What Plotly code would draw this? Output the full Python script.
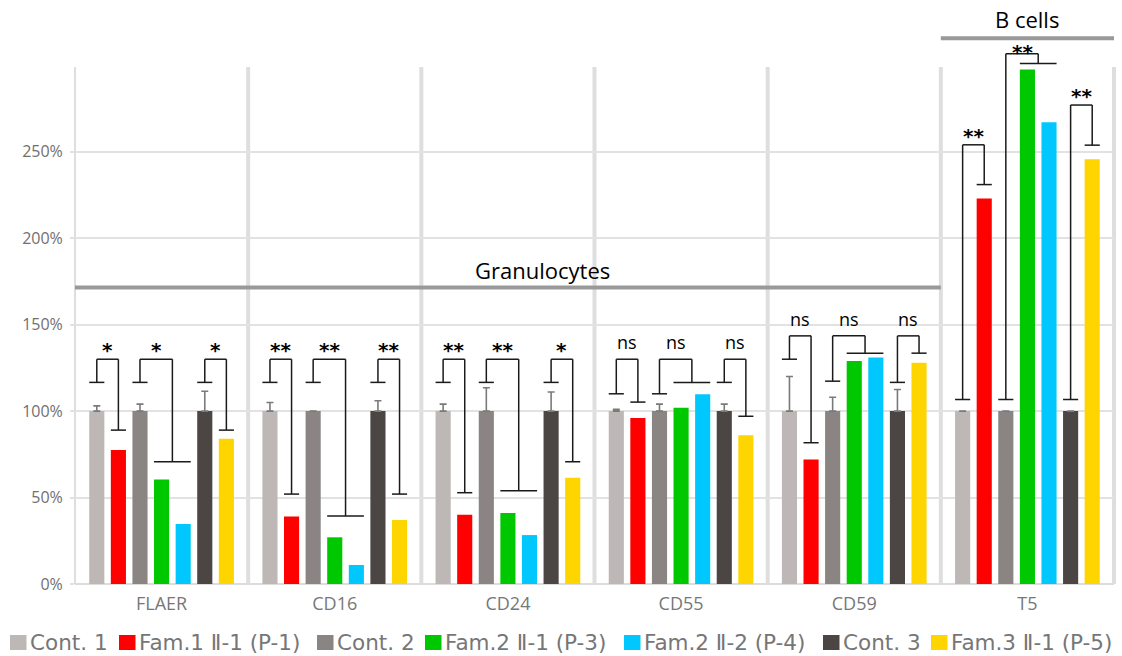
import plotly.graph_objects as go

# ---------------- data ----------------
categories = ["FLAER", "CD16", "CD24", "CD55", "CD59", "T5"]
series_names = ["Cont. 1", "Fam.1 Ⅱ-1 (P-1)", "Cont. 2", "Fam.2 Ⅱ-1 (P-3)",
                "Fam.2 Ⅱ-2 (P-4)", "Cont. 3", "Fam.3 Ⅱ-1 (P-5)"]
cont1 = [100, 100, 100, 100, 100, 100]
fam1_p1 = [77.5, 39, 40, 96, 72, 223]
cont2 = [100, 100, 100, 100, 100, 100]
fam2_p3 = [60.5, 27, 41, 102, 129, 297.5]
fam2_p4 = [34.7, 11, 28.3, 109.7, 131, 267]
cont3 = [100, 100, 100, 100, 100, 100]
fam3_p5 = [84, 37, 61.5, 86, 128, 245.7]
cont1_err = [3, 5, 4, 1, 20, None]
cont2_err = [4, None, 13.5, 4, 8, None]
cont3_err = [11.5, 6, 11, 4, 12.5, None]
y_tick_values = [0, 50, 100, 150, 200, 250]
y_tick_labels = ["0%", "50%", "100%", "150%", "200%", "250%"]

# significance brackets: (group, left bar, right bars, left foot %, top %, right foot %, label)
brackets = [
    (0, 0, [1], 116.6, 130, 89, "*"), (0, 2, [3, 4], 116.6, 130, 70.7, "*"), (0, 5, [6], 116.6, 130, 89, "*"),
    (1, 0, [1], 116.6, 130, 52, "**"), (1, 2, [3, 4], 116.6, 130, 39.3, "**"), (1, 5, [6], 116.6, 130, 52, "**"),
    (2, 0, [1], 116.6, 130, 52.8, "**"), (2, 2, [3, 4], 116.6, 130, 54, "**"), (2, 5, [6], 116.6, 130, 70.7, "*"),
    (3, 0, [1], 110, 130, 105.2, "ns"), (3, 2, [3, 4], 110, 130, 116.6, "ns"), (3, 5, [6], 116.6, 130, 97, "ns"),
    (4, 0, [1], 130, 143.5, 81.7, "ns"), (4, 2, [3, 4], 117.3, 143.5, 133.5, "ns"), (4, 5, [6], 116.6, 143.5, 133.5, "ns"),
    (5, 0, [1], 106.7, 254, 231, "**"), (5, 2, [3, 4], 106.7, 306.7, 301, "**"), (5, 5, [6], 106.7, 277, 253.8, "**"),
]
group_labels = ["Granulocytes", "B cells"]

# ---------------- style ----------------
colors = ["#bdb7b6", "#ff0000", "#8a8483", "#00c800", "#00c8ff", "#4b4644", "#ffd500"]
W, H = 1122, 656
ML, MR, MT, MB = 75, 8, 67, 72
Y_MAX = 299
BARGAP = 0.127
BARGROUPGAP = 0.3
NB = len(series_names)
SLOT = (1 - BARGAP) / NB
BARW = SLOT * (1 - BARGROUPGAP)
PW, PH = W - ML - MR, H - MT - MB
label_nudge = {16: -7}  # extra pixel shift for the tight label under the "B cells" header

values = [cont1, fam1_p1, cont2, fam2_p3, fam2_p4, cont3, fam3_p5]
errors = [cont1_err, None, cont2_err, None, None, cont3_err, None]

fig = go.Figure()
for name, vals, err, col in zip(series_names, values, errors, colors):
    kw = {}
    if err is not None:
        kw["error_y"] = dict(type="data", array=err, arrayminus=[0] * len(err), symmetric=False,
                             color="#7a7a7a", thickness=1.6, width=3.5)
    fig.add_trace(go.Bar(x=categories, y=vals, name=name, marker_color=col,
                         marker_line_width=0, showlegend=False, **kw))


def xd(x):  # category coordinate -> x domain fraction
    return (x + 0.5) / len(categories)


def yd(v):  # data value -> y domain fraction
    return v / Y_MAX


def bar_x(g, i):
    return g + (i - (NB - 1) / 2) * SLOT


def px_x(px):
    return (px - ML) / PW


def px_y(py):
    return (H - MB - py) / PH


shapes = []
# left edge line
shapes.append(dict(type="line", xref="x domain", yref="y domain", x0=0, x1=0, y0=0, y1=1,
                   line=dict(color="#dedede", width=2), layer="below"))
# group separators
for g in range(len(categories)):
    shapes.append(dict(type="line", xref="x domain", yref="y domain", x0=xd(g + 0.5), x1=xd(g + 0.5),
                       y0=0, y1=1, line=dict(color="#dedede", width=4), layer="below"))

annotations = []
LC = "#1a1a1a"
for k, (g, li, ris, yl, top, yr, lab) in enumerate(brackets):
    xl = bar_x(g, li)
    xr = sum(bar_x(g, r) for r in ris) / len(ris)
    hwl = BARW / 2
    hwr = (BARW + SLOT * (len(ris) - 1)) / 2
    segs = [((xl - hwl, yl), (xl + hwl, yl)), ((xl, yl), (xl, top)), ((xl, top), (xr, top)),
            ((xr, top), (xr, yr)), ((xr - hwr, yr), (xr + hwr, yr))]
    for (x0, y0), (x1, y1) in segs:
        shapes.append(dict(type="line", xref="x domain", yref="y domain",
                           x0=xd(x0), x1=xd(x1), y0=yd(y0), y1=yd(y1),
                           line=dict(color=LC, width=1.5)))
    if lab == "ns":
        annotations.append(dict(xref="x domain", yref="y domain", x=xd((xl + xr) / 2), y=yd(top),
                                text=lab, showarrow=False, xanchor="center", yanchor="bottom", yshift=3,
                                font=dict(family="Open Sans", size=18, color="#000000")))
    else:
        annotations.append(dict(xref="x domain", yref="y domain", x=xd((xl + xr) / 2), y=yd(top),
                                text="<b>" + lab + "</b>", showarrow=False, xanchor="center",
                                yanchor="bottom", yshift=-4 + label_nudge.get(k, 0), borderpad=0,
                                font=dict(family="DejaVu Sans", size=20, color="#000000")))

# cell-type headers
shapes.append(dict(type="line", xref="x domain", yref="y domain", x0=0, x1=xd(4.5),
                   y0=yd(171.5), y1=yd(171.5), line=dict(color="#999999", width=4)))
annotations.append(dict(xref="x domain", yref="y domain", x=xd(2.2), y=yd(181.5), text=group_labels[0],
                        showarrow=False, xanchor="center", yanchor="middle",
                        font=dict(family="Open Sans", size=22, color="#000000")))
shapes.append(dict(type="line", xref="x domain", yref="y domain", x0=xd(4.5), x1=1,
                   y0=yd(315.6), y1=yd(315.6), line=dict(color="#999999", width=4)))
annotations.append(dict(xref="x domain", yref="y domain", x=xd(5), y=yd(327), text=group_labels[1],
                        showarrow=False, xanchor="center", yanchor="middle", borderpad=0,
                        font=dict(family="Open Sans", size=22, color="#000000")))

# custom legend
legend_px = [10, 119, 317, 425, 624, 823, 931]
for name, col, lx in zip(series_names, colors, legend_px):
    shapes.append(dict(type="rect", xref="paper", yref="paper", x0=px_x(lx), x1=px_x(lx + 16.5),
                       y0=px_y(650), y1=px_y(635), fillcolor=col, line=dict(width=0)))
    annotations.append(dict(xref="paper", yref="paper", x=px_x(lx + 17.5), y=px_y(642.5), text=name,
                            showarrow=False, xanchor="left", yanchor="middle",
                            font=dict(family="DejaVu Sans", size=21.5, color="#767676")))

fig.update_layout(
    width=W, height=H, margin=dict(l=ML, r=MR, t=MT, b=MB),
    paper_bgcolor="white", plot_bgcolor="white",
    barmode="group", bargap=BARGAP, bargroupgap=BARGROUPGAP,
    shapes=shapes, annotations=annotations, showlegend=False,
    xaxis=dict(range=[-0.5, len(categories) - 0.5], showgrid=False, showline=False, zeroline=False,
               ticks="", ticklabelstandoff=7,
               tickfont=dict(family="Open Sans", size=18, color="#777777")),
    yaxis=dict(range=[0, Y_MAX], tickvals=y_tick_values, ticktext=y_tick_labels,
               showgrid=True, gridcolor="#e2e2e2", gridwidth=2,
               zeroline=True, zerolinecolor="#dcdcdc", zerolinewidth=2,
               showline=False, ticks="outside", ticklen=4, tickcolor="#e2e2e2", tickwidth=2,
               ticklabelstandoff=4,
               tickfont=dict(family="Open Sans", size=16, color="#707070")),
)

fig.write_html("out.html")
